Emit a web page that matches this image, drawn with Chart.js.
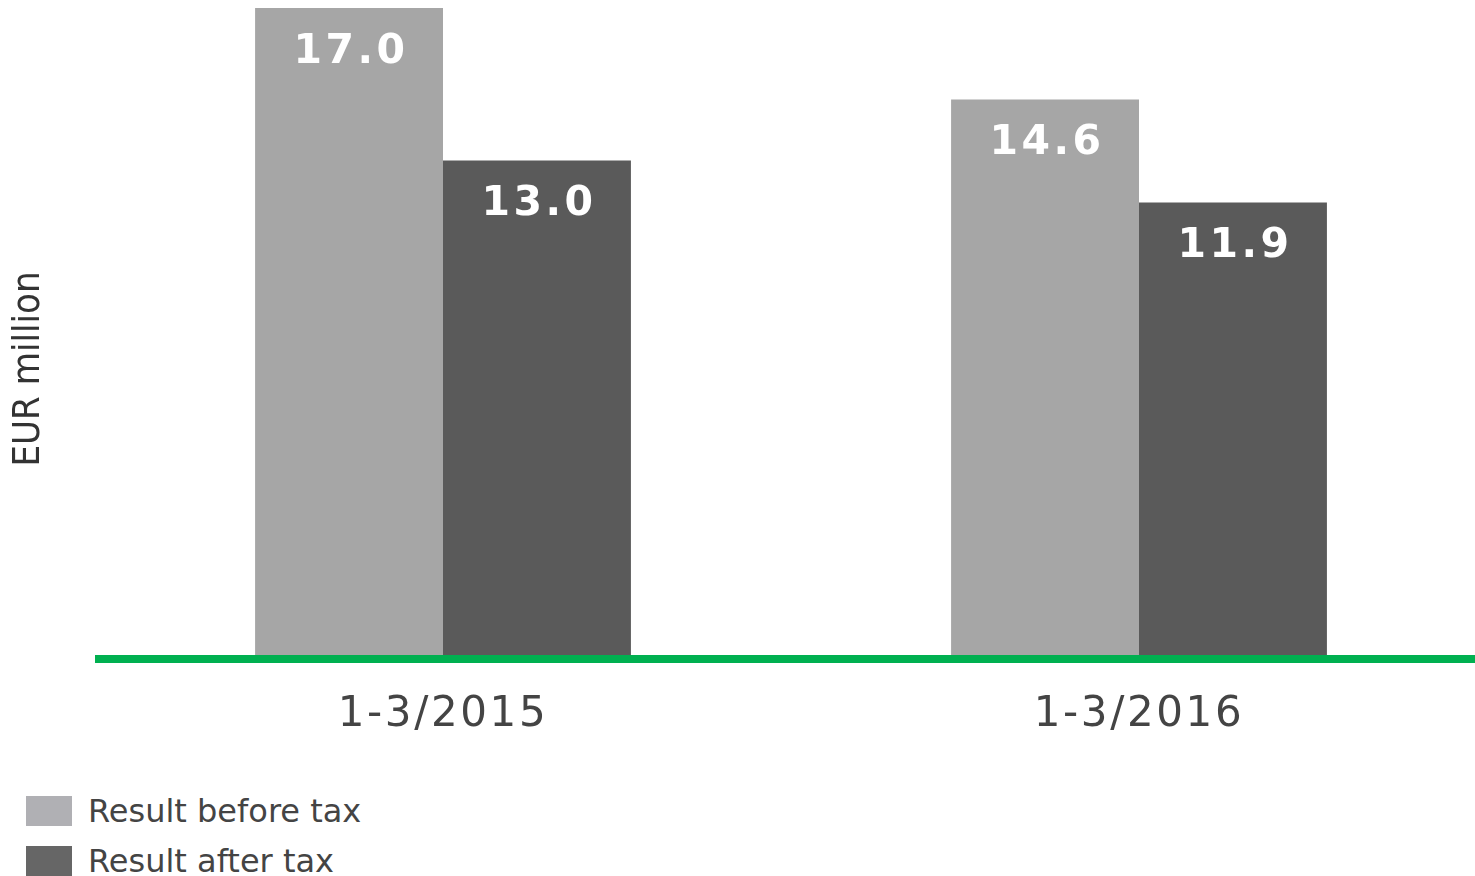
<!DOCTYPE html>
<html>
<head>
<meta charset="utf-8">
<script src="https://cdn.jsdelivr.net/npm/chart.js@4.4.0/dist/chart.umd.min.js"></script>
<style>
    html, body { margin: 0; padding: 0; background: #fff; overflow: hidden; }
    #wrap { position: relative; width: 1475px; height: 876px; }
    #chart { position: absolute; left: 0; top: 0; }
    .legend { position: absolute; left: 26px; top: 796px; font-family: "DejaVu Sans", sans-serif; font-size: 32px; color: #444; }
    .legend-item { display: flex; align-items: center; height: 30px; margin-bottom: 20px; }
    .legend-box { width: 46px; height: 30px; margin-right: 16px; }
</style>
</head>
<body>
<div id="wrap">
    <canvas id="chart"></canvas>
    <div class="legend" id="legend"></div>
</div>
<script>
const categories = ["1-3/2015", "1-3/2016"];
const beforeTax = [17.0, 14.6];
const afterTax = [13.0, 11.9];
const seriesNames = ["Result before tax", "Result after tax"];
const axisTitle = "EUR million";
const barColors = ["#a6a6a6", "#5a5a5a"];
const legendColors = ["#b0b0b4", "#666666"];

// wide tracking for the category labels, like the original
const tickSpacing = {
    id: "tickSpacing",
    beforeDraw(chart) { chart.ctx.letterSpacing = "2.6px"; },
    beforeDatasetsDraw(chart) { chart.ctx.letterSpacing = "0px"; }
};

// green baseline just under the bars
const baseline = {
    id: "baseline",
    afterDatasetsDraw(chart) {
        const ctx = chart.ctx;
        const area = chart.chartArea;
        const y = chart.scales.y.getPixelForValue(0) + 3;
        ctx.save();
        ctx.strokeStyle = "#00b050";
        ctx.lineWidth = 8;
        ctx.beginPath();
        ctx.moveTo(area.left, y);
        ctx.lineTo(area.right, y);
        ctx.stroke();
        ctx.restore();
    }
};

// white value labels near the top of each bar
const valueLabels = {
    id: "valueLabels",
    afterDatasetsDraw(chart) {
        const ctx = chart.ctx;
        ctx.save();
        ctx.fillStyle = "#ffffff";
        ctx.font = "bold 41px 'DejaVu Sans'";
        ctx.letterSpacing = "3.5px";
        ctx.textAlign = "center";
        ctx.textBaseline = "middle";
        chart.data.datasets.forEach((ds, i) => {
            chart.getDatasetMeta(i).data.forEach((bar, j) => {
                ctx.fillText(ds.data[j].toFixed(1), bar.x + 2, bar.y + 44);
            });
        });
        ctx.restore();
    }
};

// rotated axis title, sitting a bit lower than the plot centre
const yTitle = {
    id: "yTitle",
    afterDraw(chart) {
        const ctx = chart.ctx;
        ctx.save();
        ctx.translate(29, 369);
        ctx.rotate(-Math.PI / 2);
        ctx.fillStyle = "#333";
        ctx.font = "38px 'DejaVu Sans Condensed', 'DejaVu Sans'";
        ctx.textAlign = "center";
        ctx.textBaseline = "middle";
        ctx.fillText(axisTitle, 0, 0);
        ctx.restore();
    }
};

const canvas = document.getElementById("chart");
canvas.width = 1490;
canvas.height = 736;
canvas.style.width = "1490px";
canvas.style.height = "736px";

new Chart(canvas, {
    type: "bar",
    data: {
        labels: categories,
        datasets: [
            { label: seriesNames[0], data: beforeTax, backgroundColor: barColors[0] },
            { label: seriesNames[1], data: afterTax, backgroundColor: barColors[1] }
        ]
    },
    options: {
        responsive: false,
        animation: false,
        devicePixelRatio: 1,
        categoryPercentage: 0.54,
        barPercentage: 1,
        layout: { padding: { top: 8, right: 3, left: 0, bottom: 0 } },
        plugins: {
            legend: { display: false },
            tooltip: { enabled: false }
        },
        scales: {
            x: {
                grid: { display: false, drawTicks: false },
                border: { display: false },
                ticks: {
                    color: "#444",
                    padding: 34,
                    font: { family: "'DejaVu Sans'", size: 42 }
                },
                afterFit(scale) { scale.height = 80; }
            },
            y: {
                min: 0,
                max: 17,
                grid: { display: false, drawTicks: false },
                border: { display: false },
                ticks: { display: false },
                afterFit(scale) { scale.width = 95; }
            }
        }
    },
    plugins: [tickSpacing, baseline, valueLabels, yTitle]
});

const legend = document.getElementById("legend");
seriesNames.forEach((name, i) => {
    const item = document.createElement("div");
    item.className = "legend-item";
    const box = document.createElement("span");
    box.className = "legend-box";
    box.style.background = legendColors[i];
    const text = document.createElement("span");
    text.textContent = name;
    item.appendChild(box);
    item.appendChild(text);
    legend.appendChild(item);
});
</script>
</body>
</html>
